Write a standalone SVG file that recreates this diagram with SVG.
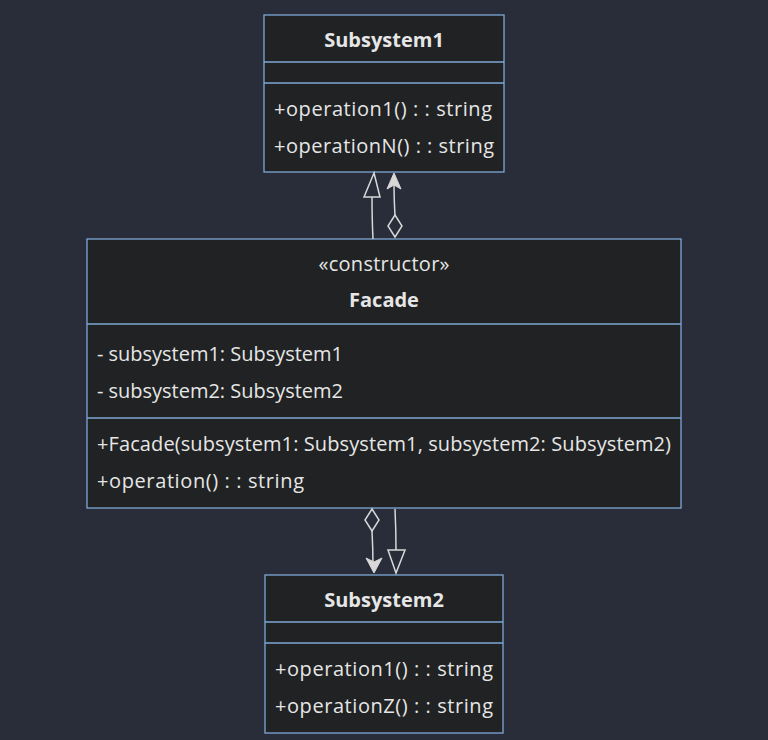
<svg xmlns="http://www.w3.org/2000/svg" width="768" height="740" viewBox="0 0 768 740">
<style>
.bg{fill:#282d39}
.box{fill:#202223;stroke:#7ea8d6;stroke-width:1.3}
.div{stroke:#7ea8d6;stroke-width:1.3}
text{font-family:"Open Sans","Noto Sans",sans-serif;fill:#e6e6e6;font-size:20px}
.t{font-weight:bold;text-anchor:middle}
.c{text-anchor:middle}
.ln{fill:none;stroke:#d8d8d8;stroke-width:1.5}
</style>
<rect class="bg" x="0" y="0" width="768" height="740"/>
<g id="Subsystem1">
<rect class="box" x="264" y="15" width="240" height="157"/>
<line class="div" x1="264" y1="62" x2="504" y2="62"/>
<line class="div" x1="264" y1="83" x2="504" y2="83"/>
<text class="t" x="384" y="47">Subsystem1</text>
<text x="274" y="116" textLength="218" lengthAdjust="spacing">+operation1() : : string</text>
<text x="274" y="153" textLength="220" lengthAdjust="spacing">+operationN() : : string</text>
</g>
<g id="Facade">
<rect class="box" x="87" y="239" width="594" height="269"/>
<line class="div" x1="87" y1="324" x2="681" y2="324"/>
<line class="div" x1="87" y1="418" x2="681" y2="418"/>
<text class="c" x="384" y="271" textLength="131" lengthAdjust="spacing">«constructor»</text>
<text class="t" x="384" y="307">Facade</text>
<text x="97" y="361" textLength="246" lengthAdjust="spacing">- subsystem1: Subsystem1</text>
<text x="97" y="398" textLength="246" lengthAdjust="spacing">- subsystem2: Subsystem2</text>
<text x="97" y="451" textLength="574" lengthAdjust="spacing">+Facade(subsystem1: Subsystem1, subsystem2: Subsystem2)</text>
<text x="97" y="488" textLength="207" lengthAdjust="spacing">+operation() : : string</text>
</g>
<g id="Subsystem2">
<rect class="box" x="265" y="575" width="238" height="158"/>
<line class="div" x1="265" y1="622" x2="503" y2="622"/>
<line class="div" x1="265" y1="643" x2="503" y2="643"/>
<text class="t" x="384" y="607">Subsystem2</text>
<text x="275" y="676" textLength="218" lengthAdjust="spacing">+operation1() : : string</text>
<text x="275" y="713" textLength="218" lengthAdjust="spacing">+operationZ() : : string</text>
</g>
<g id="connectors">
<path class="ln" d="M373,239 Q372,220 372,197"/>
<polygon class="ln" points="374,173 364,197 380,197"/>
<path class="ln" d="M395,215 Q394,200 394,180"/>
<polygon points="394,173 387,189 394,185 401,189" fill="#d8d8d8" stroke="#d8d8d8" stroke-width="1"/>
<polygon class="ln" points="395,215 402,226 395,237 388,226"/>
<path class="ln" d="M372,531 Q373,550 373,566"/>
<polygon class="ln" points="372,509 379,520 372,531 365,520"/>
<polygon points="374,573 366,558 374,562 382,558" fill="#d8d8d8" stroke="#d8d8d8" stroke-width="1"/>
<path class="ln" d="M395,509 Q396,530 396,550"/>
<polygon class="ln" points="396,573 388,550 405,550"/>
</g>
</svg>
